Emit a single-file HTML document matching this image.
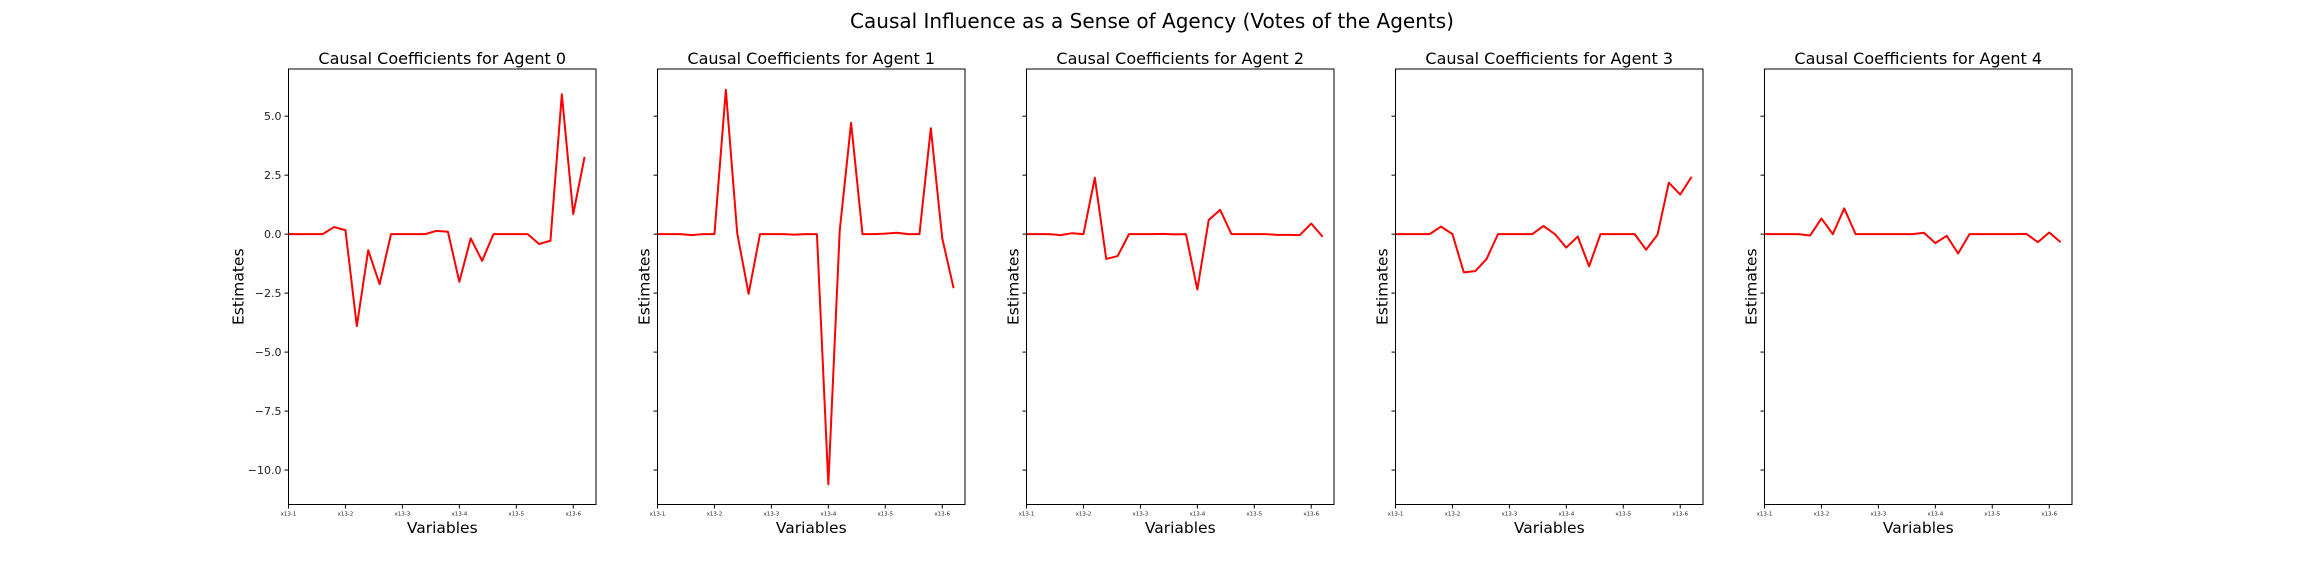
<!DOCTYPE html>
<html><head><meta charset="utf-8"><style>
html,body{margin:0;padding:0;background:#fff;}
svg{display:block;font-family:"DejaVu Sans","Liberation Sans",sans-serif;}
</style></head><body>
<svg id="fig" width="2304" height="576" xmlns="http://www.w3.org/2000/svg">
<text x="1152" y="28" text-anchor="middle" font-size="20" fill="#000">Causal Influence as a Sense of Agency (Votes of the Agents)</text>
</svg>
<script>
const agentNames = ["Agent 0","Agent 1","Agent 2","Agent 3","Agent 4"];
const xTickLabels = ["x13-1","x13-2","x13-3","x13-4","x13-5","x13-6"];
const xTickIdx = [0,5,10,15,20,25];
const yTicks = [5,2.5,0,-2.5,-5,-7.5,-10];
const agent0 = [0,0,0,0,0.3,0.17,-3.9,-0.68,-2.12,0,0,0,0,0.14,0.1,-2.02,-0.18,-1.13,0,0,0,0,-0.42,-0.28,5.93,0.85,3.28];
const agent1 = [0,0,0,-0.04,0,0,6.12,0.04,-2.53,0,0,0,-0.02,0,0,-10.6,0.15,4.72,0,0,0.02,0.06,0,0,4.49,-0.17,-2.29];
const agent2 = [0,0,0,-0.04,0.04,0,2.39,-1.05,-0.93,0,0,0,0.01,-0.01,0,-2.35,0.6,1.03,0,0,0,0,-0.03,-0.03,-0.04,0.45,-0.11];
const agent3 = [0,0,0,0,0.32,0,-1.62,-1.57,-1.05,0,0,0,0,0.35,0,-0.57,-0.1,-1.36,0,0,0,0,-0.66,-0.03,2.18,1.68,2.43];
const agent4 = [0,0,0,0,-0.06,0.66,0,1.09,0,0,0,0,0,0,0.06,-0.38,-0.07,-0.82,0,0,0,0,0,0.01,-0.34,0.07,-0.34];
const series = [agent0,agent1,agent2,agent3,agent4];

const NS="http://www.w3.org/2000/svg";
const svg=document.getElementById('fig');
const axLeft0=288.5, axStep=369, axW=307.5, axTop=69, axBot=504.5;
const yMin=-11.46, yMax=7.0, xMin=0, xMax=27;
function mk(tag,attrs,parent){const e=document.createElementNS(NS,tag);for(const k in attrs)e.setAttribute(k,attrs[k]);(parent||svg).appendChild(e);return e;}
function yS(v){return axBot-(v-yMin)/(yMax-yMin)*(axBot-axTop);}
series.forEach((data,p)=>{
  const L=axLeft0+p*axStep;
  const xS=i=>L+(i-xMin)/(xMax-xMin)*axW;
  const g=mk('g',{});
  
  
  const t=mk('text',{x:L+axW/2,y:64,'text-anchor':'middle','font-size':16,fill:'#000'},g);
  t.textContent='Causal Coefficients for '+agentNames[p];
  
  
  const pts=data.map((v,i)=>xS(i).toFixed(2)+','+yS(v).toFixed(2)).join(' ');
  const pl=mk('polyline',{points:pts,fill:'none',stroke:'#ff0000','stroke-width':2,'stroke-linejoin':'round'},g);
  
  
  const fr=mk('rect',{x:L,y:axTop,width:axW,height:axBot-axTop,fill:'none',stroke:'#000','stroke-width':1},g);
  
  
  yTicks.forEach(v=>{
    const y=yS(v);
    mk('line',{x1:L-4,x2:L,y1:y,y2:y,stroke:'#000','stroke-width':1},g);
    if(p===0){
      const tl=mk('text',{x:L-7,y:y+4,'text-anchor':'end','font-size':11,fill:'#222'},g);
      tl.textContent=(v<0?'\u2212':'')+Math.abs(v).toFixed(1);
      
      
    }
  });
  xTickIdx.forEach((ix,k)=>{
    const x=xS(ix);
    mk('line',{x1:x,x2:x,y1:axBot,y2:axBot+4,stroke:'#000','stroke-width':1},g);
    const tl=mk('text',{x:x,y:axBot+11,'text-anchor':'middle','font-size':5.5,fill:'#222'},g);
    tl.textContent=xTickLabels[k];
    
    
  });
  const xl=mk('text',{x:L+axW/2,y:533,'text-anchor':'middle','font-size':15.5,fill:'#000'},g);
  xl.textContent='Variables';
  
  
  const yx = p===0 ? L-45 : L-8;
  const yl=mk('text',{x:0,y:0,'text-anchor':'middle','font-size':15.5,fill:'#000',transform:'translate('+yx+','+((axTop+axBot)/2)+') rotate(-90)'},g);
  yl.textContent='Estimates';
  
  
});
</script>
</body></html>
